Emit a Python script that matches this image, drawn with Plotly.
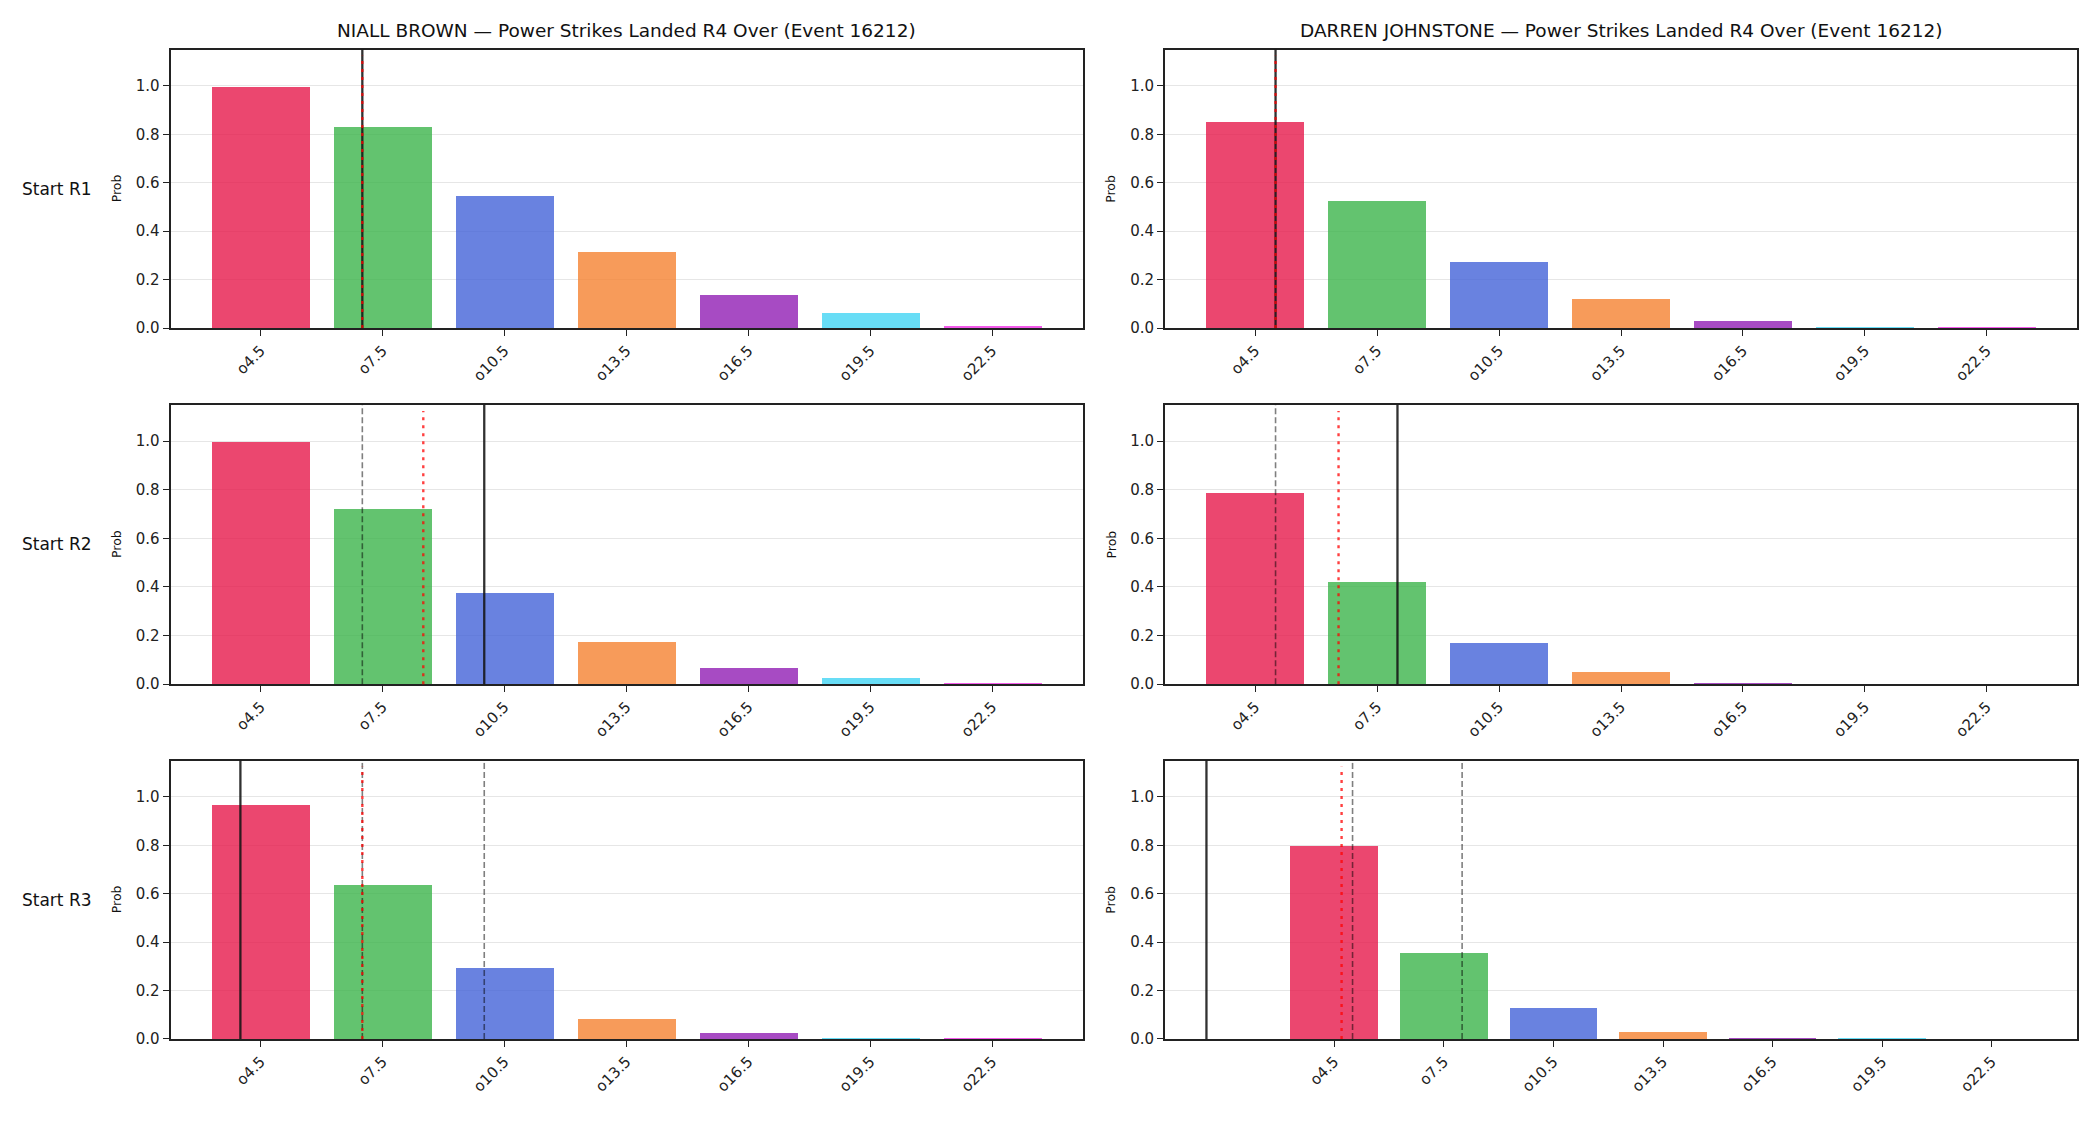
import numpy as np
import plotly.graph_objects as go
from plotly.subplots import make_subplots

# ---------------- data ----------------
categories = ["o4.5", "o7.5", "o10.5", "o13.5", "o16.5", "o19.5", "o22.5"]
thresholds = [4.5, 7.5, 10.5, 13.5, 16.5, 19.5, 22.5]
row_labels = ["Start R1", "Start R2", "Start R3"]
fighters = ["NIALL BROWN", "DARREN JOHNSTONE"]
market = "Power Strikes Landed R4 Over (Event 16212)"

niall_r1 = [0.997, 0.833, 0.549, 0.315, 0.138, 0.064, 0.010]
niall_r2 = [0.997, 0.723, 0.375, 0.175, 0.068, 0.027, 0.007]
niall_r3 = [0.967, 0.636, 0.296, 0.083, 0.026, 0.005, 0.005]
darren_r1 = [0.853, 0.525, 0.274, 0.122, 0.032, 0.007, 0.002]
darren_r2 = [0.789, 0.420, 0.170, 0.053, 0.007, 0.001, 0.000]
darren_r3 = [0.800, 0.358, 0.130, 0.030, 0.007, 0.007, 0.001]

# strike counts marked with vertical lines
niall_start = [7.0, 10.0, 4.0]      # solid black
niall_proj = [7.0, 8.5, 7.0]        # red dotted
darren_start = [5.0, 8.0, 1.0]
darren_proj = [5.0, 6.55, 4.7]

bar_colors = ["#e6194b", "#3cb44b", "#4363d8", "#f58231", "#911eb4", "#42d4f4", "#f032e6"]

probs = [[niall_r1, darren_r1], [niall_r2, darren_r2], [niall_r3, darren_r3]]
starts = [niall_start, darren_start]
projs = [niall_proj, darren_proj]

FONT = "DejaVu Sans"
W, H = 2100, 1125

fig = make_subplots(rows=3, cols=2, horizontal_spacing=0.04, vertical_spacing=0.07)

col_dom = [[170.5 / W, 1082.5 / W], [1165 / W, 2077 / W]]
row_px = [(50, 330.7), (408, 689.7), (766.7, 1047.3)]
row_dom = [[1 - b / H, 1 - t / H] for t, b in row_px]

step = thresholds[1] - thresholds[0]


def to_x(v):
    return (v - thresholds[0]) / step


shapes = []
annotations = []
xs = list(range(len(categories)))

for r in range(3):
    for c in range(2):
        n = r * 2 + c + 1
        sfx = "" if n == 1 else str(n)
        vals = probs[r][c]
        fig.add_trace(
            go.Bar(
                x=xs, y=vals, width=0.8,
                marker=dict(color=bar_colors, opacity=0.8, line=dict(width=0)),
                showlegend=False, hoverinfo="skip",
            ),
            row=r + 1, col=c + 1,
        )
        line_xs = [to_x(starts[c][r]), to_x(projs[c][r])] + [to_x(v) for v in starts[c][:r]]
        lo = min(-0.4, min(line_xs))
        hi = max(len(categories) - 0.6, max(line_xs))
        pad = 0.05 * (hi - lo)
        fig.update_xaxes(
            domain=col_dom[c], range=[lo - pad, hi + pad],
            tickmode="array", tickvals=xs, ticktext=categories, tickangle=-45,
            ticks="outside", ticklen=6, tickwidth=1.3, tickcolor="#222",
            showline=True, linecolor="#222", linewidth=2, mirror=True,
            showgrid=False, zeroline=False,
            tickfont=dict(family=FONT, size=15, color="#222"),
            row=r + 1, col=c + 1,
        )
        fig.update_yaxes(
            domain=row_dom[r], range=[0, 1.15],
            tickvals=[0, 0.2, 0.4, 0.6, 0.8, 1.0], tickformat=".1f",
            ticks="outside", ticklen=6, tickwidth=1.3, tickcolor="#222",
            showline=True, linecolor="#222", linewidth=2, mirror=True,
            showgrid=True, gridcolor="#e6e6e6", gridwidth=1, zeroline=False,
            tickfont=dict(family=FONT, size=15, color="#222"),
            row=r + 1, col=c + 1,
        )
        # previous starts: gray dashed
        for v in starts[c][:r]:
            shapes.append(dict(type="line", xref="x" + sfx, yref="y" + sfx + " domain",
                               x0=to_x(v), x1=to_x(v), y0=0, y1=1,
                               line=dict(color="rgba(0,0,0,0.5)", width=1.6, dash="6px,3px")))
        # current start: solid black
        v = starts[c][r]
        shapes.append(dict(type="line", xref="x" + sfx, yref="y" + sfx + " domain",
                           x0=to_x(v), x1=to_x(v), y0=0, y1=1,
                           line=dict(color="rgba(20,20,20,0.88)", width=2.3)))
        # projection: red dotted
        v = projs[c][r]
        shapes.append(dict(type="line", xref="x" + sfx, yref="y" + sfx + " domain",
                           x0=to_x(v), x1=to_x(v), y0=0, y1=0.978,
                           line=dict(color="rgba(255,0,0,0.75)", width=2.4, dash="3px,5px")))
        # y label
        px_left = col_dom[c][0] * W - 54
        annotations.append(dict(text="Prob", xref="paper", yref="paper",
                                x=px_left / W, y=(row_dom[r][0] + row_dom[r][1]) / 2,
                                xanchor="center", yanchor="middle", textangle=-90,
                                showarrow=False, font=dict(family=FONT, size=12.5, color="#111")))

# column titles
for c in range(2):
    annotations.append(dict(text=f"{fighters[c]} — {market}", xref="paper", yref="paper",
                            x=(col_dom[c][0] + col_dom[c][1]) / 2, y=1 - 31 / H,
                            xanchor="center", yanchor="middle", showarrow=False,
                            font=dict(family=FONT, size=18.5, color="#111")))
# row labels
for r in range(3):
    annotations.append(dict(text=row_labels[r], xref="paper", yref="paper",
                            x=57 / W, y=(row_dom[r][0] + row_dom[r][1]) / 2,
                            xanchor="center", yanchor="middle", showarrow=False,
                            font=dict(family=FONT, size=17, color="#111")))

fig.update_layout(
    width=W, height=H, margin=dict(l=0, r=0, t=0, b=0),
    paper_bgcolor="white", plot_bgcolor="white",
    shapes=shapes, annotations=annotations, bargap=0,
    font=dict(family=FONT),
)

fig.write_html("out.html")
